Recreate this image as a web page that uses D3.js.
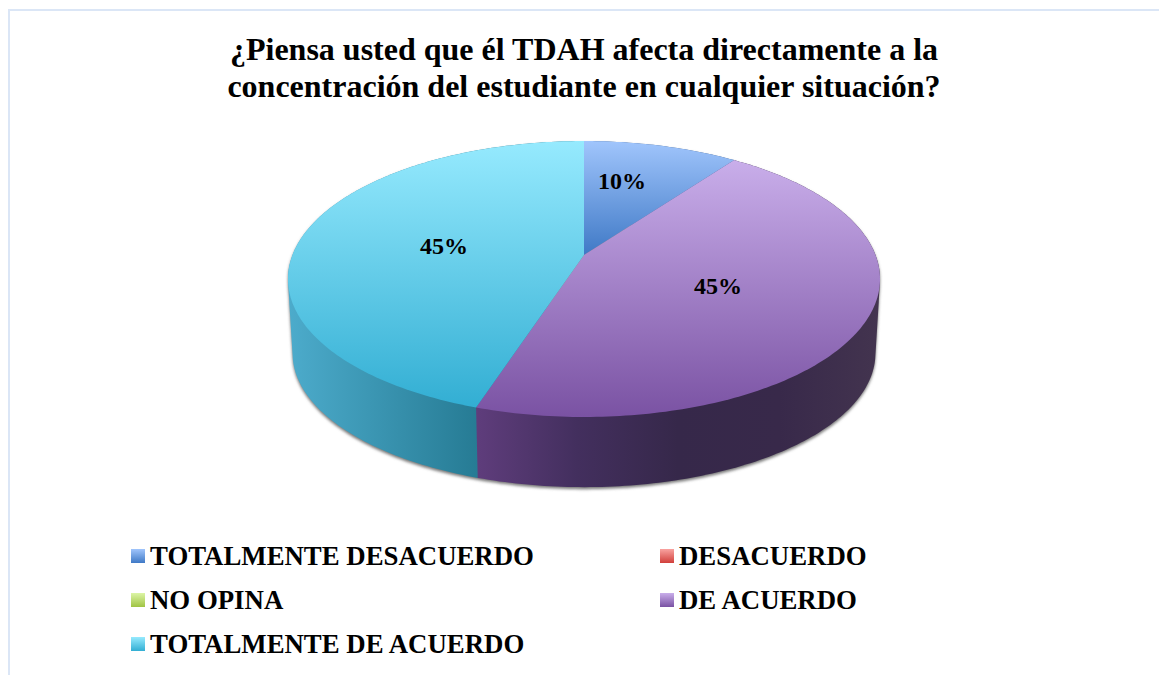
<!DOCTYPE html>
<html>
<head>
<meta charset="utf-8">
<script src="https://cdnjs.cloudflare.com/ajax/libs/d3/7.8.5/d3.min.js"></script>
<style>
    html, body { margin: 0; padding: 0; background: #fff; }
    svg { display: block; }
    text { font-family: "Liberation Serif", serif; font-weight: bold; fill: #000; }
</style>
</head>
<body>
<svg id="chart" width="1159" height="675"></svg>
<script>
const titleLines = ["¿Piensa usted que él TDAH afecta directamente a la", "concentración del estudiante en cualquier situación?"];
const categories = ["TOTALMENTE DESACUERDO", "DESACUERDO", "NO OPINA", "DE ACUERDO", "TOTALMENTE DE ACUERDO"];
const values = [10, 0, 0, 45, 45];
const labels = ["10%", "", "", "45%", "45%"];

// top to bottom gradient for each category
const topColors = [["#a0c5fc", "#3f79c6"], ["#f9a3a0", "#d13f3b"], ["#dcf5a6", "#a0c443"], ["#c9aeea", "#7a52a3"], ["#96eafe", "#32aed3"]];
// left to right gradient of the side wall
const sideColors = [["#3d6aa8", "#2d4f7e"], ["#b03835", "#842a28"], ["#8aa83a", "#66802b"], ["#5f3d7c", "#432f5e", "#36284a", "#38294a", "#43344f"], ["#4cabcb", "#267b94"]];

const width = 1159, height = 675;
const svg = d3.select("#chart");
const defs = svg.append("defs");

// the pie is a flat disc seen in perspective, k is how much the far side shrinks
const k = 0.174;
function project(angle, cx, cy, a, b) {
    const u = Math.sin(angle), v = Math.cos(angle), w = 1 + k * v;
    return [cx + a * u / w, cy - b * v / w];
}
const center = [584, 255];
const topFace = a => project(a, center[0], center[1], 291.5, 133.8);
const bottomFace = a => project(a, center[0], 330, 287, 129.8);

const pie = d3.pie().value(d => d).sort(null);
const slices = pie(values);
const line = d3.line();

function arcPoints(s, face) {
    const n = Math.max(2, Math.ceil((s.endAngle - s.startAngle) * 60));
    return d3.range(n + 1).map(i => face(s.startAngle + (s.endAngle - s.startAngle) * i / n));
}

function slicePoints(s) {
    return [center].concat(arcPoints(s, topFace));
}

// outline of the extruded wall, hull gives the straight sides between both faces
function wallPoints(s) {
    return d3.polygonHull(arcPoints(s, topFace).concat(arcPoints(s, bottomFace)));
}

function addStops(gradient, colors) {
    const offset = d3.scaleLinear().domain([0, colors.length - 1]).range([0, 1]);
    colors.forEach((c, i) => gradient.append("stop").attr("offset", offset(i)).attr("stop-color", c));
}

slices.forEach((s, i) => {
    // each slice runs its gradient over its own height
    const ys = d3.extent(slicePoints(s), p => p[1]);
    const top = defs.append("linearGradient").attr("id", "top" + i)
        .attr("gradientUnits", "userSpaceOnUse")
        .attr("x1", 0).attr("x2", 0).attr("y1", ys[0]).attr("y2", ys[1] == ys[0] ? ys[0] + 1 : ys[1]);
    addStops(top, topColors[i]);

    const side = defs.append("linearGradient").attr("id", "side" + i)
        .attr("gradientUnits", "userSpaceOnUse")
        .attr("x1", i == 4 ? 290 : 476).attr("x2", i == 4 ? 478 : 880).attr("y1", 0).attr("y2", 0);
    addStops(side, sideColors[i]);

    const swatch = defs.append("linearGradient").attr("id", "swatch" + i)
        .attr("x1", 0).attr("x2", 0).attr("y1", 0).attr("y2", 1);
    addStops(swatch, topColors[i]);
});

const blur = defs.append("filter").attr("id", "shadow")
    .attr("x", "-10%").attr("y", "-10%").attr("width", "120%").attr("height", "120%");
blur.append("feGaussianBlur").attr("stdDeviation", 1.8);

// frame
svg.append("path")
    .attr("d", line([[width, 10], [9, 10], [9, height]]))
    .attr("fill", "none").attr("stroke", "#dbe6f6").attr("stroke-width", 2);

// title
svg.append("g").selectAll("text").data(titleLines).join("text")
    .attr("x", 584)
    .attr("y", (d, i) => 60 + i * 37)
    .attr("text-anchor", "middle")
    .style("font-size", "32px")
    .text(d => d);

const pieGroup = svg.append("g");

// soft shadow under the disc
const whole = { startAngle: 0, endAngle: 2 * Math.PI };
pieGroup.append("path")
    .attr("d", line(wallPoints(whole)) + "Z")
    .attr("transform", "translate(0,2)")
    .attr("fill", "#777")
    .attr("filter", "url(#shadow)");

// side walls, last slice first because its hull runs a little over the seam
const shown = slices.filter(s => s.endAngle > s.startAngle);
shown.slice().reverse().forEach(s => {
    pieGroup.append("path")
        .attr("d", line(wallPoints(s)) + "Z")
        .attr("fill", "url(#side" + s.index + ")");
});

// top face
pieGroup.selectAll("path.slice").data(shown).join("path")
    .attr("class", "slice")
    .attr("d", s => line(slicePoints(s)) + "Z")
    .attr("fill", s => "url(#top" + s.index + ")");

// percent labels
const labelAt = [[622, 189], null, null, [718, 294], [444, 254]];
labels.forEach((d, i) => {
    if (d == "") return;
    svg.append("text")
        .attr("x", labelAt[i][0])
        .attr("y", labelAt[i][1])
        .attr("text-anchor", "middle")
        .style("font-size", "24px")
        .text(d);
});

// legend
const legendX = d3.scalePoint().domain([0, 1]).range([131, 660]);
const legendY = d3.scalePoint().domain([0, 1, 2]).range([556, 644]);
const legend = svg.append("g").selectAll("g").data(categories).join("g")
    .attr("transform", (d, i) => `translate(${legendX(i % 2)},${legendY(Math.floor(i / 2))})`);
legend.append("rect")
    .attr("x", 0).attr("y", -7).attr("width", 14).attr("height", 14)
    .attr("fill", (d, i) => "url(#swatch" + i + ")");
legend.append("text")
    .attr("x", 19).attr("y", 9)
    .style("font-size", "26.8px")
    .text(d => d);
</script>
</body>
</html>
